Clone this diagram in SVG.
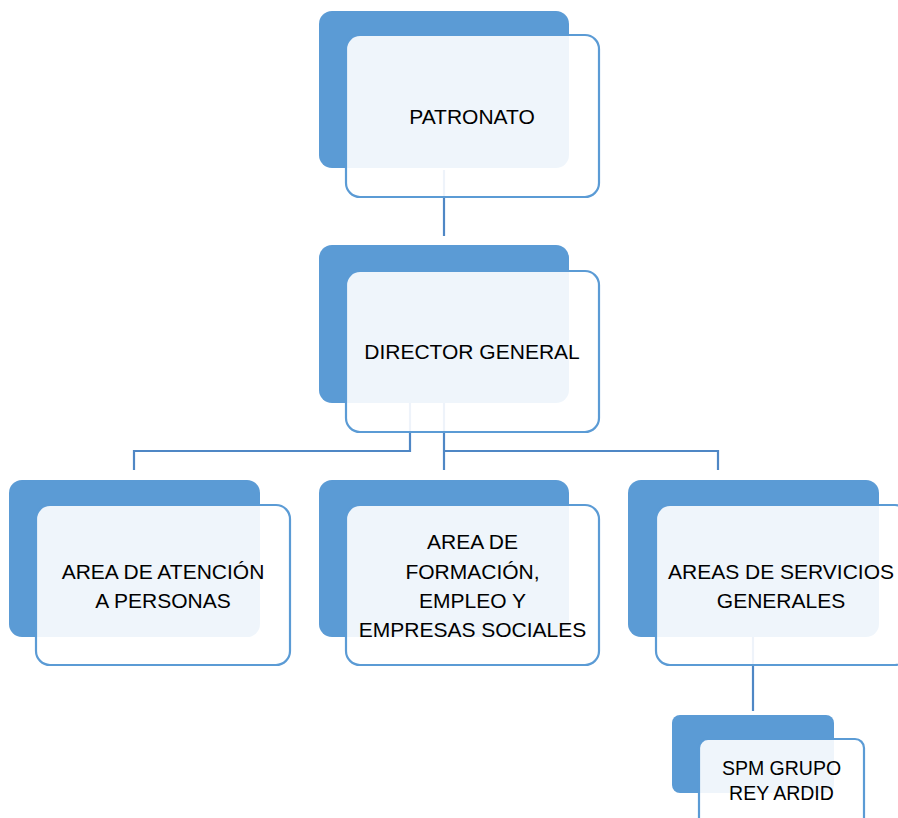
<svg xmlns="http://www.w3.org/2000/svg" width="898" height="818" viewBox="0 0 898 818">
<style>
.back{fill:#5B9BD5;}
.front{fill:#ffffff;fill-opacity:0.9;stroke:#5B9BD5;stroke-width:2.2;}
.lbl{font-family:"Liberation Sans",Arial,sans-serif;font-size:21px;fill:#000;text-anchor:middle;}
.sm{font-size:19.5px;}
.conn{fill:none;stroke:#4F87C5;stroke-width:2.2;}
</style>
<rect width="898" height="818" fill="#ffffff"/>
<g id="connectors">
<path class="conn" d="M444 170 V236"/>
<path class="conn" d="M410 403 V451 H134 V470"/>
<path class="conn" d="M444 403 V470"/>
<path class="conn" d="M444 451 H718 V470"/>
<path class="conn" d="M753 637 V711"/>
</g>
<g id="patronato">
<rect class="back" x="319" y="11" width="250" height="157" rx="13"/>
<rect class="front" x="346" y="35" width="253" height="162" rx="14"/>
<text class="lbl" x="472" y="124">PATRONATO</text>
</g>
<g id="director">
<rect class="back" x="319" y="245" width="250" height="158" rx="13"/>
<rect class="front" x="346" y="271" width="253" height="161" rx="14"/>
<text class="lbl" x="472" y="359">DIRECTOR GENERAL</text>
</g>
<g id="atencion">
<rect class="back" x="9" y="480" width="251" height="157" rx="13"/>
<rect class="front" x="36" y="505" width="254" height="160" rx="14"/>
<text class="lbl" x="163" y="579">AREA DE ATENCIÓN</text>
<text class="lbl" x="163" y="608">A PERSONAS</text>
</g>
<g id="formacion">
<rect class="back" x="319" y="480" width="250" height="157" rx="13"/>
<rect class="front" x="346" y="505" width="253" height="160" rx="14"/>
<text class="lbl" x="472.5" y="549">AREA DE</text>
<text class="lbl" x="472.5" y="579">FORMACIÓN,</text>
<text class="lbl" x="472.5" y="608">EMPLEO Y</text>
<text class="lbl" x="472.5" y="637">EMPRESAS SOCIALES</text>
</g>
<g id="servicios">
<rect class="back" x="628" y="480" width="251" height="157" rx="13"/>
<rect class="front" x="656" y="505" width="253" height="160" rx="14"/>
<text class="lbl" x="781" y="579">AREAS DE SERVICIOS</text>
<text class="lbl" x="781" y="608">GENERALES</text>
</g>
<g id="spm">
<rect class="back" x="672" y="715" width="162" height="78" rx="8"/>
<rect class="front" x="699" y="739" width="165" height="90" rx="9"/>
<text class="lbl sm" x="781.5" y="775">SPM GRUPO</text>
<text class="lbl sm" x="781.5" y="800">REY ARDID</text>
</g>
</svg>
